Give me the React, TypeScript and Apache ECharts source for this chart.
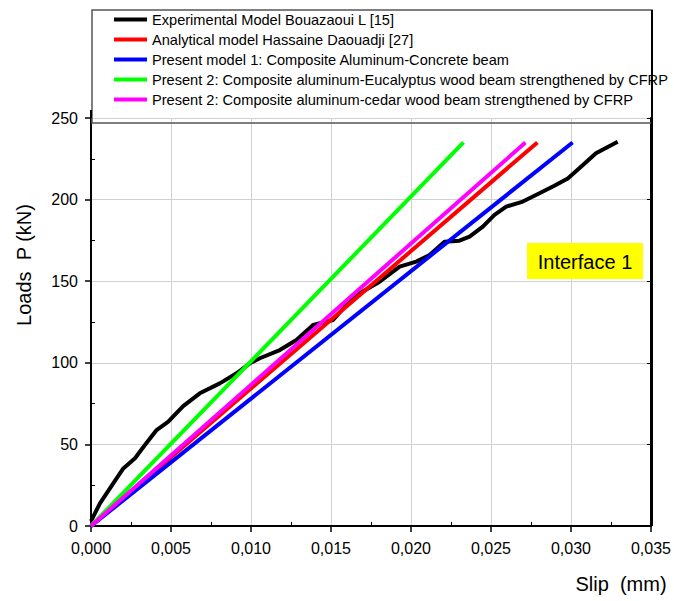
import React, { useEffect, useRef } from "react";
import * as echarts from "echarts";

const seriesNames = [
  "Experimental Model Bouazaoui L [15]",
  "Analytical model Hassaine Daouadji [27]",
  "Present model 1: Composite Aluminum-Concrete beam",
  "Present 2: Composite aluminum-Eucalyptus wood beam strengthened by CFRP",
  "Present 2: Composite aluminum-cedar wood beam strengthened by CFRP",
];
const seriesColors = ["#000000", "#ff0000", "#0000ff", "#00ff00", "#ff00ff"];

// Experimental curve (slip mm, load kN)
const expSlip = [
  0, 0.00056, 0.00139, 0.00202, 0.00275, 0.00337, 0.0041, 0.00483, 0.00576, 0.0068,
  0.00805, 0.0091, 0.00993, 0.01055, 0.0118, 0.01284, 0.01388, 0.01513, 0.01596,
  0.01679, 0.01804, 0.01929, 0.02033, 0.02116, 0.0221, 0.02303, 0.02366, 0.02449,
  0.02522, 0.02595, 0.02699, 0.02803, 0.02896, 0.0298, 0.03052, 0.03156, 0.03292,
];
const expLoad = [
  3, 13.9, 26.1, 35.3, 41.5, 49.6, 58.8, 63.9, 73.5, 81.3,
  87.4, 93.6, 99.7, 102.8, 107.8, 114, 123.2, 126.2, 135.4,
  142.6, 149.7, 158.9, 162, 166, 174.2, 174.8, 177.3, 183.4,
  190.6, 195.7, 198.8, 203.9, 208.5, 213, 219.2, 228.4, 235.5,
];

// Linear models: start and end points
const analyticalSlip = [0, 0.0279];
const analyticalLoad = [0, 235];
const model1Slip = [0, 0.0301];
const model1Load = [0, 235];
const eucalyptusSlip = [0, 0.02328];
const eucalyptusLoad = [0, 235];
const cedarSlip = [0, 0.02715];
const cedarLoad = [0, 235];

const xTicks = [0, 0.005, 0.01, 0.015, 0.02, 0.025, 0.03, 0.035];
const yTicks = [0, 50, 100, 150, 200, 250];

const FONT = "'Liberation Sans', Arial, Helvetica, sans-serif";

const zip = (xs: number[], ys: number[]) => xs.map((x, i) => [x, ys[i]]);

export default function App() {
  const ref = useRef<HTMLDivElement>(null);
  useEffect(() => {
    if (!ref.current) return;
    const chart = echarts.init(ref.current, null, { renderer: "svg" });
    const datasets = [
      zip(expSlip, expLoad),
      zip(analyticalSlip, analyticalLoad),
      zip(model1Slip, model1Load),
      zip(eucalyptusSlip, eucalyptusLoad),
      zip(cedarSlip, cedarLoad),
    ];
    const xMin = xTicks[0];
    const xMax = xTicks[xTicks.length - 1];
    const xInt = xTicks[1] - xTicks[0];
    const yMin = yTicks[0];
    const yMax = yTicks[yTicks.length - 1];
    const yInt = yTicks[1] - yTicks[0];

    chart.setOption({
      animation: false,
      backgroundColor: "#ffffff",
      textStyle: { fontFamily: FONT },
      grid: { left: 91, right: 22, top: 118, bottom: 75, containLabel: false },
      legend: {
        data: seriesNames,
        orient: "vertical",
        left: 114,
        top: 12,
        padding: 0,
        itemGap: 5,
        itemWidth: 33,
        itemHeight: 4,
        icon: "rect",
        selectedMode: false,
        textStyle: { fontSize: 14.6, color: "#000", fontFamily: FONT },
      },
      xAxis: [
        {
          type: "value",
          min: xMin,
          max: xMax,
          interval: xInt,
          axisLine: { show: true, onZero: false, lineStyle: { color: "#000", width: 2 } },
          axisTick: { show: true, inside: false, length: 6, lineStyle: { color: "#000", width: 1.5 } },
          axisLabel: {
            fontSize: 16,
            color: "#000",
            margin: 14,
            fontFamily: FONT,
            formatter: (v: number) => v.toFixed(3).replace(".", ","),
          },
          splitLine: { show: true, lineStyle: { color: "#d0d0d0", width: 1 } },
        },
        {
          type: "value",
          min: xMin,
          max: xMax,
          interval: xInt,
          position: "bottom",
          axisLine: { show: false, onZero: false },
          axisTick: { show: false, inside: true },
          minorTick: { show: true, splitNumber: 2, length: 4, lineStyle: { color: "#000", width: 1 } },
          axisLabel: { show: false },
          splitLine: { show: false },
        },
      ],
      yAxis: [
        {
          type: "value",
          min: yMin,
          max: yMax,
          interval: yInt,
          axisLine: { show: true, onZero: false, lineStyle: { color: "#000", width: 2 } },
          axisTick: { show: true, inside: false, length: 6, lineStyle: { color: "#000", width: 1.5 } },
          axisLabel: { fontSize: 16, color: "#000", margin: 13, fontFamily: FONT },
          splitLine: { show: true, lineStyle: { color: "#d0d0d0", width: 1 } },
        },
        {
          type: "value",
          min: yMin,
          max: yMax,
          interval: yInt,
          position: "left",
          axisLine: { show: false, onZero: false },
          axisTick: { show: false, inside: true },
          minorTick: { show: true, splitNumber: 2, length: 4, lineStyle: { color: "#000", width: 1 } },
          axisLabel: { show: false },
          splitLine: { show: false },
        },
        {
          type: "value",
          min: yMin,
          max: yMax,
          interval: yInt,
          position: "right",
          axisLine: { show: true, onZero: false, lineStyle: { color: "#000", width: 2 } },
          axisTick: { show: true, inside: true, length: 4, lineStyle: { color: "#000", width: 1 } },
          axisLabel: { show: false },
          splitLine: { show: false },
        },
      ],
      series: seriesNames.map((name, i) => ({
        name,
        type: "line",
        data: datasets[i],
        showSymbol: false,
        symbol: "none",
        color: seriesColors[i],
        lineStyle: { color: seriesColors[i], width: 4 },
        itemStyle: { color: seriesColors[i] },
        z: 2 + i,
      })),
      graphic: [
        {
          type: "rect",
          shape: { x: 92, y: 10, width: 560, height: 113 },
          style: { fill: "none", stroke: "#555555", lineWidth: 1.5 },
          z: 100,
          silent: true,
        },
        {
          type: "line",
          shape: { x1: 91, y1: 110, x2: 91, y2: 118 },
          style: { stroke: "#000000", lineWidth: 2 },
          z: 101,
          silent: true,
        },
        {
          type: "line",
          shape: { x1: 652, y1: 10, x2: 652, y2: 526 },
          style: { stroke: "#000000", lineWidth: 2 },
          z: 101,
          silent: true,
        },
        {
          type: "rect",
          shape: { x: 527, y: 243, width: 116, height: 36 },
          style: { fill: "#ffff00" },
          z: 100,
          silent: true,
        },
        {
          type: "text",
          x: 585,
          y: 262,
          style: {
            text: "Interface 1",
            fontSize: 20,
            fontFamily: FONT,
            fill: "#000",
            textAlign: "center",
            textVerticalAlign: "middle",
          },
          z: 101,
          silent: true,
        },
        {
          type: "text",
          x: 621,
          y: 584,
          style: {
            text: "Slip  (mm)",
            fontSize: 20,
            fontFamily: FONT,
            fill: "#000",
            textAlign: "center",
            textVerticalAlign: "middle",
          },
          z: 101,
          silent: true,
        },
        {
          type: "text",
          x: 24,
          y: 265,
          rotation: Math.PI / 2,
          style: {
            text: "Loads  P (kN)",
            fontSize: 20,
            fontFamily: FONT,
            fill: "#000",
            textAlign: "center",
            textVerticalAlign: "middle",
          },
          z: 101,
          silent: true,
        },
      ],
    });
    return () => chart.dispose();
  }, []);

  return (
    <div
      ref={ref}
      style={{ width: 674, height: 601, position: "absolute", left: 0, top: 0 }}
    />
  );
}
